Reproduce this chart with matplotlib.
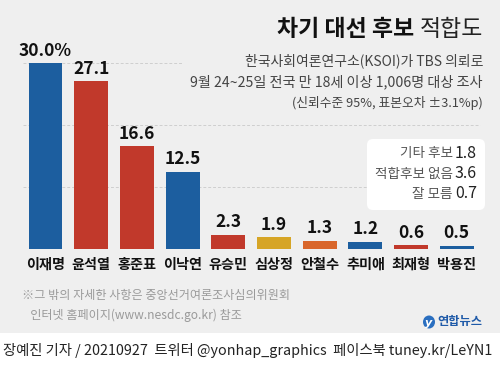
import matplotlib
matplotlib.use("Agg")
import matplotlib.pyplot as plt
from matplotlib.patches import FancyBboxPatch, Rectangle, Ellipse

plt.rcParams['font.family'] = ['Noto Sans CJK KR', 'DejaVu Sans']

candidates = ["이재명", "윤석열", "홍준표", "이낙연", "유승민", "심상정", "안철수", "추미애", "최재형", "박용진"]
values = [30.0, 27.1, 16.6, 12.5, 2.3, 1.9, 1.3, 1.2, 0.6, 0.5]
value_labels = ["30.0%", "27.1", "16.6", "12.5", "2.3", "1.9", "1.3", "1.2", "0.6", "0.5"]
BLUE, RED, YELLOW, ORANGE = "#1c5e9f", "#c1392b", "#d6a526", "#d9662b"
colors = [BLUE, RED, RED, BLUE, RED, YELLOW, ORANGE, BLUE, RED, BLUE]
grid_values = [10, 20, 30]

other_labels = ["기타 후보", "적합후보 없음", "잘 모름"]
other_values = ["1.8", "3.6", "0.7"]

title_bold = "차기 대선 후보"
title_light = "적합도"
subtitle = ["한국사회여론연구소(KSOI)가 TBS 의뢰로",
            "9월 24~25일 전국 만 18세 이상 1,006명 대상 조사",
            "(신뢰수준 95%, 표본오차 ±3.1%p)"]
footnote = ["※그 밖의 자세한 사항은 중앙선거여론조사심의위원회",
            "   인터넷 홈페이지(www.nesdc.go.kr) 참조"]
credit = "장예진 기자 / 20210927  트위터 @yonhap_graphics  페이스북 tuney.kr/LeYN1"

W, H = 500, 382
fig = plt.figure(figsize=(W / 100, H / 100), dpi=100)
fig.patch.set_facecolor("#efefef")
fig.add_artist(Rectangle((0, 0), 1, (H - 333) / H, transform=fig.transFigure,
                         facecolor="white", edgecolor="none", zorder=-5))

left = 22.65 / W
width = 457 / W
bottom = (H - 249) / H
height = 186 / H
ax = fig.add_axes([left, bottom, width, height])
ax.set_facecolor("none")
ax.set_xlim(-0.5, 9.5)
ax.set_ylim(0, 30)
for s in ax.spines.values():
    s.set_visible(False)
ax.set_xticks([])
ax.set_yticks([])

x = list(range(len(candidates)))
for g in grid_values:
    xmax = 2.99 if g == 30 else 9.5
    ax.hlines(g, -0.5, xmax, colors="#cfcfcf", linestyles=(0, (3, 2)), linewidth=0.7, zorder=0, clip_on=False)

ax.bar(x, values, width=0.74, color=colors, zorder=2)
for xi, v, lab in zip(x, values, value_labels):
    ax.annotate(lab, (xi, v), xytext=(0, 2.5), textcoords="offset points",
                ha="center", va="bottom", fontsize=12.5, fontweight="bold",
                color="#111111", annotation_clip=False)
for xi, name in zip(x, candidates):
    ax.annotate(name, (xi, 0), xytext=(0, -11.5), textcoords="offset points",
                ha="center", va="center", fontsize=10.2, fontweight="bold",
                color="#111111", annotation_clip=False)

ov = fig.add_axes([0, 0, 1, 1], zorder=5)
ov.set_xlim(0, W)
ov.set_ylim(H, 0)
ov.axis("off")

t2 = ov.text(483, 30, title_light, ha="right", va="center", fontsize=16.5,
             color="#222222", fontweight="light")
fig.canvas.draw()
bb = t2.get_window_extent()
inv = ov.transData.inverted()
x_left = inv.transform((bb.x0, bb.y0))[0]
ov.text(x_left - 5, 30, title_bold, ha="right", va="center", fontsize=16.5,
        color="#111111", fontweight="bold")

sub_y = [61, 82, 103]
sub_size = [10.0, 10.2, 9.2]
for s, yy, fs in zip(subtitle, sub_y, sub_size):
    ov.text(483, yy, s, ha="right", va="center", fontsize=fs, color="#444444")

box = FancyBboxPatch((367, 139), 118, 71, boxstyle="round,pad=0,rounding_size=6",
                     facecolor="white", edgecolor="none", zorder=1)
ov.add_patch(box)
for i, (lab, val) in enumerate(zip(other_labels, other_values)):
    yy = 153 + i * 20.5
    tv = ov.text(477, yy, val, ha="right", va="center", fontsize=11.5, color="#222222", zorder=2)
    fig.canvas.draw()
    b = tv.get_window_extent()
    xl = inv.transform((b.x0, b.y0))[0]
    ov.text(xl - 2, yy, lab, ha="right", va="center", fontsize=9.8, color="#555555", zorder=2)

ov.text(22, 296, footnote[0], ha="left", va="center", fontsize=8.7, color="#9a9a9a")
ov.text(22, 315, footnote[1], ha="left", va="center", fontsize=8.7, color="#9a9a9a")

ov.add_patch(Ellipse((429, 322), 12, 13, facecolor="#2a6fc0", edgecolor="none"))
ov.text(429, 322.5, "y", ha="center", va="center", fontsize=8, color="white",
        fontweight="bold", style="italic", family="DejaVu Sans")
ov.text(437, 322, "연합뉴스", ha="left", va="center", fontsize=8.8, color="#1f5aa8", fontweight="bold")

ov.text(3, 350, credit, ha="left", va="center", fontsize=10.3, color="#222222")

fig.savefig("out.png", dpi=100, facecolor=fig.get_facecolor())
